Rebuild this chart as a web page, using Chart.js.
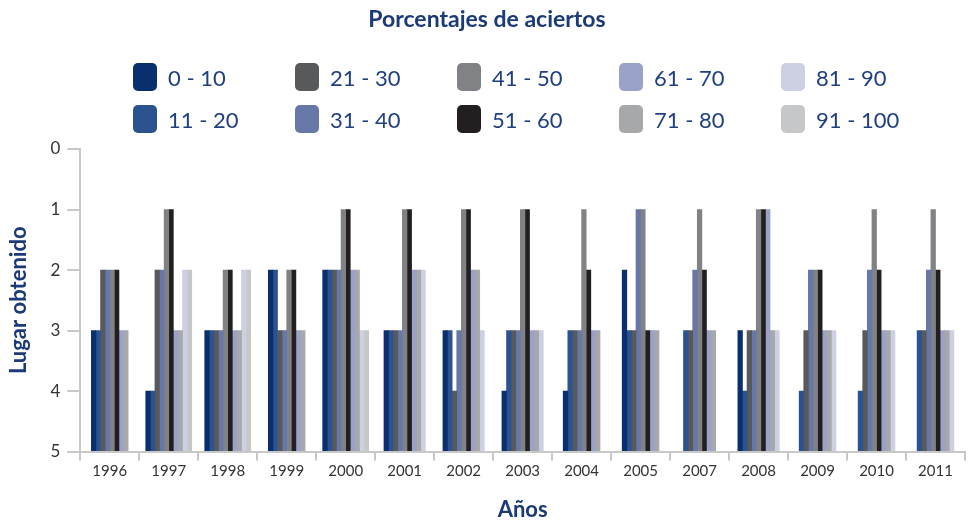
<!DOCTYPE html>
<html>
<head>
<meta charset="utf-8">
<script src="https://cdn.jsdelivr.net/npm/chart.js@4"></script>
<style>
  body { margin: 0; background: #fff; font-family: Lato, sans-serif; }
  #wrap { position: relative; width: 974px; height: 523px; }
  #title { position: absolute; left: 0; top: 4px; width: 974px; text-align: center;
           font-weight: bold; font-size: 23px; color: #1b3a76; }
  #legend { position: absolute; left: 133px; top: 63px; display: grid;
            grid-template-rows: repeat(2, 42px); grid-auto-flow: column; grid-auto-columns: 162px; }
  .item { display: flex; align-items: center; height: 28px; }
  .box { width: 24px; height: 28px; border-radius: 5px; margin-right: 11px; }
  .lbl { font-size: 22px; color: #1f3f80; }
  canvas { position: absolute; left: 0; top: 0; }
</style>
</head>
<body>
<div id="wrap">
  <canvas id="myChart" width="974" height="523"></canvas>
  <div id="title">Porcentajes de aciertos</div>
  <div id="legend"></div>
</div>
<script>
const years = ['1996', '1997', '1998', '1999', '2000', '2001', '2002', '2003',
               '2004', '2005', '2007', '2008', '2009', '2010', '2011'];
const ranges = ['0 - 10', '11 - 20', '21 - 30', '31 - 40', '41 - 50',
                '51 - 60', '61 - 70', '71 - 80', '81 - 90', '91 - 100'];
const colors = ['#0a2f6e', '#2c5390', '#58595b', '#6677a8', '#818285',
                '#231f20', '#9aa2c8', '#a7a8aa', '#cdd0e3', '#c6c7c8'];

// lugar obtenido por año (null = sin barra)
const r0_10   = [3, 4, 3, 2, 2, 3, 3, 4, 4, 2, null, 3, null, null, null];
const r11_20  = [3, 4, 3, 2, 2, 3, 3, 3, 3, 3, 3, 4, 4, 4, 3];
const r21_30  = [2, 2, 3, 3, 2, 3, 4, 3, 3, 3, 3, 3, 3, 3, 3];
const r31_40  = [2, 2, 3, 3, 2, 3, 3, 3, 3, 1, 2, 3, 2, 2, 2];
const r41_50  = [2, 1, 2, 2, 1, 1, 1, 1, 1, 1, 1, 1, 2, 1, 1];
const r51_60  = [2, 1, 2, 2, 1, 1, 1, 1, 2, 3, 2, 1, 2, 2, 2];
const r61_70  = [3, 3, 3, 3, 2, 2, 2, 3, 3, 3, 3, 1, 3, 3, 3];
const r71_80  = [3, 3, 3, 3, 2, 2, 2, 3, 3, 3, 3, 3, 3, 3, 3];
const r81_90  = [null, 2, 2, null, 3, 2, 3, 3, null, null, null, 3, 3, 3, 3];
const r91_100 = [null, 2, 2, null, 3, null, null, null, null, null, null, null, null, null, null];

const series = [r0_10, r11_20, r21_30, r31_40, r41_50, r51_60, r61_70, r71_80, r81_90, r91_100];

const data = {
  labels: years,
  datasets: series.map((values, i) => ({
    label: ranges[i],
    data: values,
    backgroundColor: colors[i],
    borderWidth: 0,
    base: 5,
    barThickness: 4.6,
    skipNull: true
  }))
};

const navy = '#1b3a76';
const axisGray = '#c8c8c8';

const config = {
  type: 'bar',
  data,
  options: {
    responsive: false,
    animation: false,
    layout: { padding: { top: 149, right: 9, bottom: 0, left: 6 } },
    plugins: { legend: { display: false }, tooltip: { enabled: false } },
    scales: {
      x: {
        grid: { drawOnChartArea: false, drawTicks: true, tickLength: 9, color: axisGray, lineWidth: 2, offset: true },
        border: { color: axisGray, width: 2 },
        ticks: { color: '#333', font: { family: 'Lato', size: 15 }, padding: 2 },
        title: { display: true, text: 'Años', color: navy, font: { family: 'Lato', size: 22, weight: 'bold' }, padding: { top: 14, bottom: 0 } }
      },
      y: {
        reverse: true,
        min: 0,
        max: 5,
        grid: { drawOnChartArea: false, tickLength: 13, color: axisGray, lineWidth: 2 },
        border: { color: axisGray, width: 2 },
        ticks: { stepSize: 1, color: '#333', font: { family: 'Lato', size: 17 }, padding: 7 },
        title: { display: true, text: 'Lugar obtenido', color: navy, font: { family: 'Lato', size: 22, weight: 'bold' }, padding: { top: 0, bottom: 11 } }
      }
    }
  }
};

const myChart = new Chart(document.getElementById('myChart'), config);

// leyenda en dos filas, ordenada por columnas como el original
const legend = document.getElementById('legend');
myChart.data.datasets.forEach(ds => {
  const item = document.createElement('div');
  item.className = 'item';
  const box = document.createElement('span');
  box.className = 'box';
  box.style.background = ds.backgroundColor;
  const lbl = document.createElement('span');
  lbl.className = 'lbl';
  lbl.textContent = ds.label;
  item.appendChild(box);
  item.appendChild(lbl);
  legend.appendChild(item);
});
</script>
</body>
</html>
